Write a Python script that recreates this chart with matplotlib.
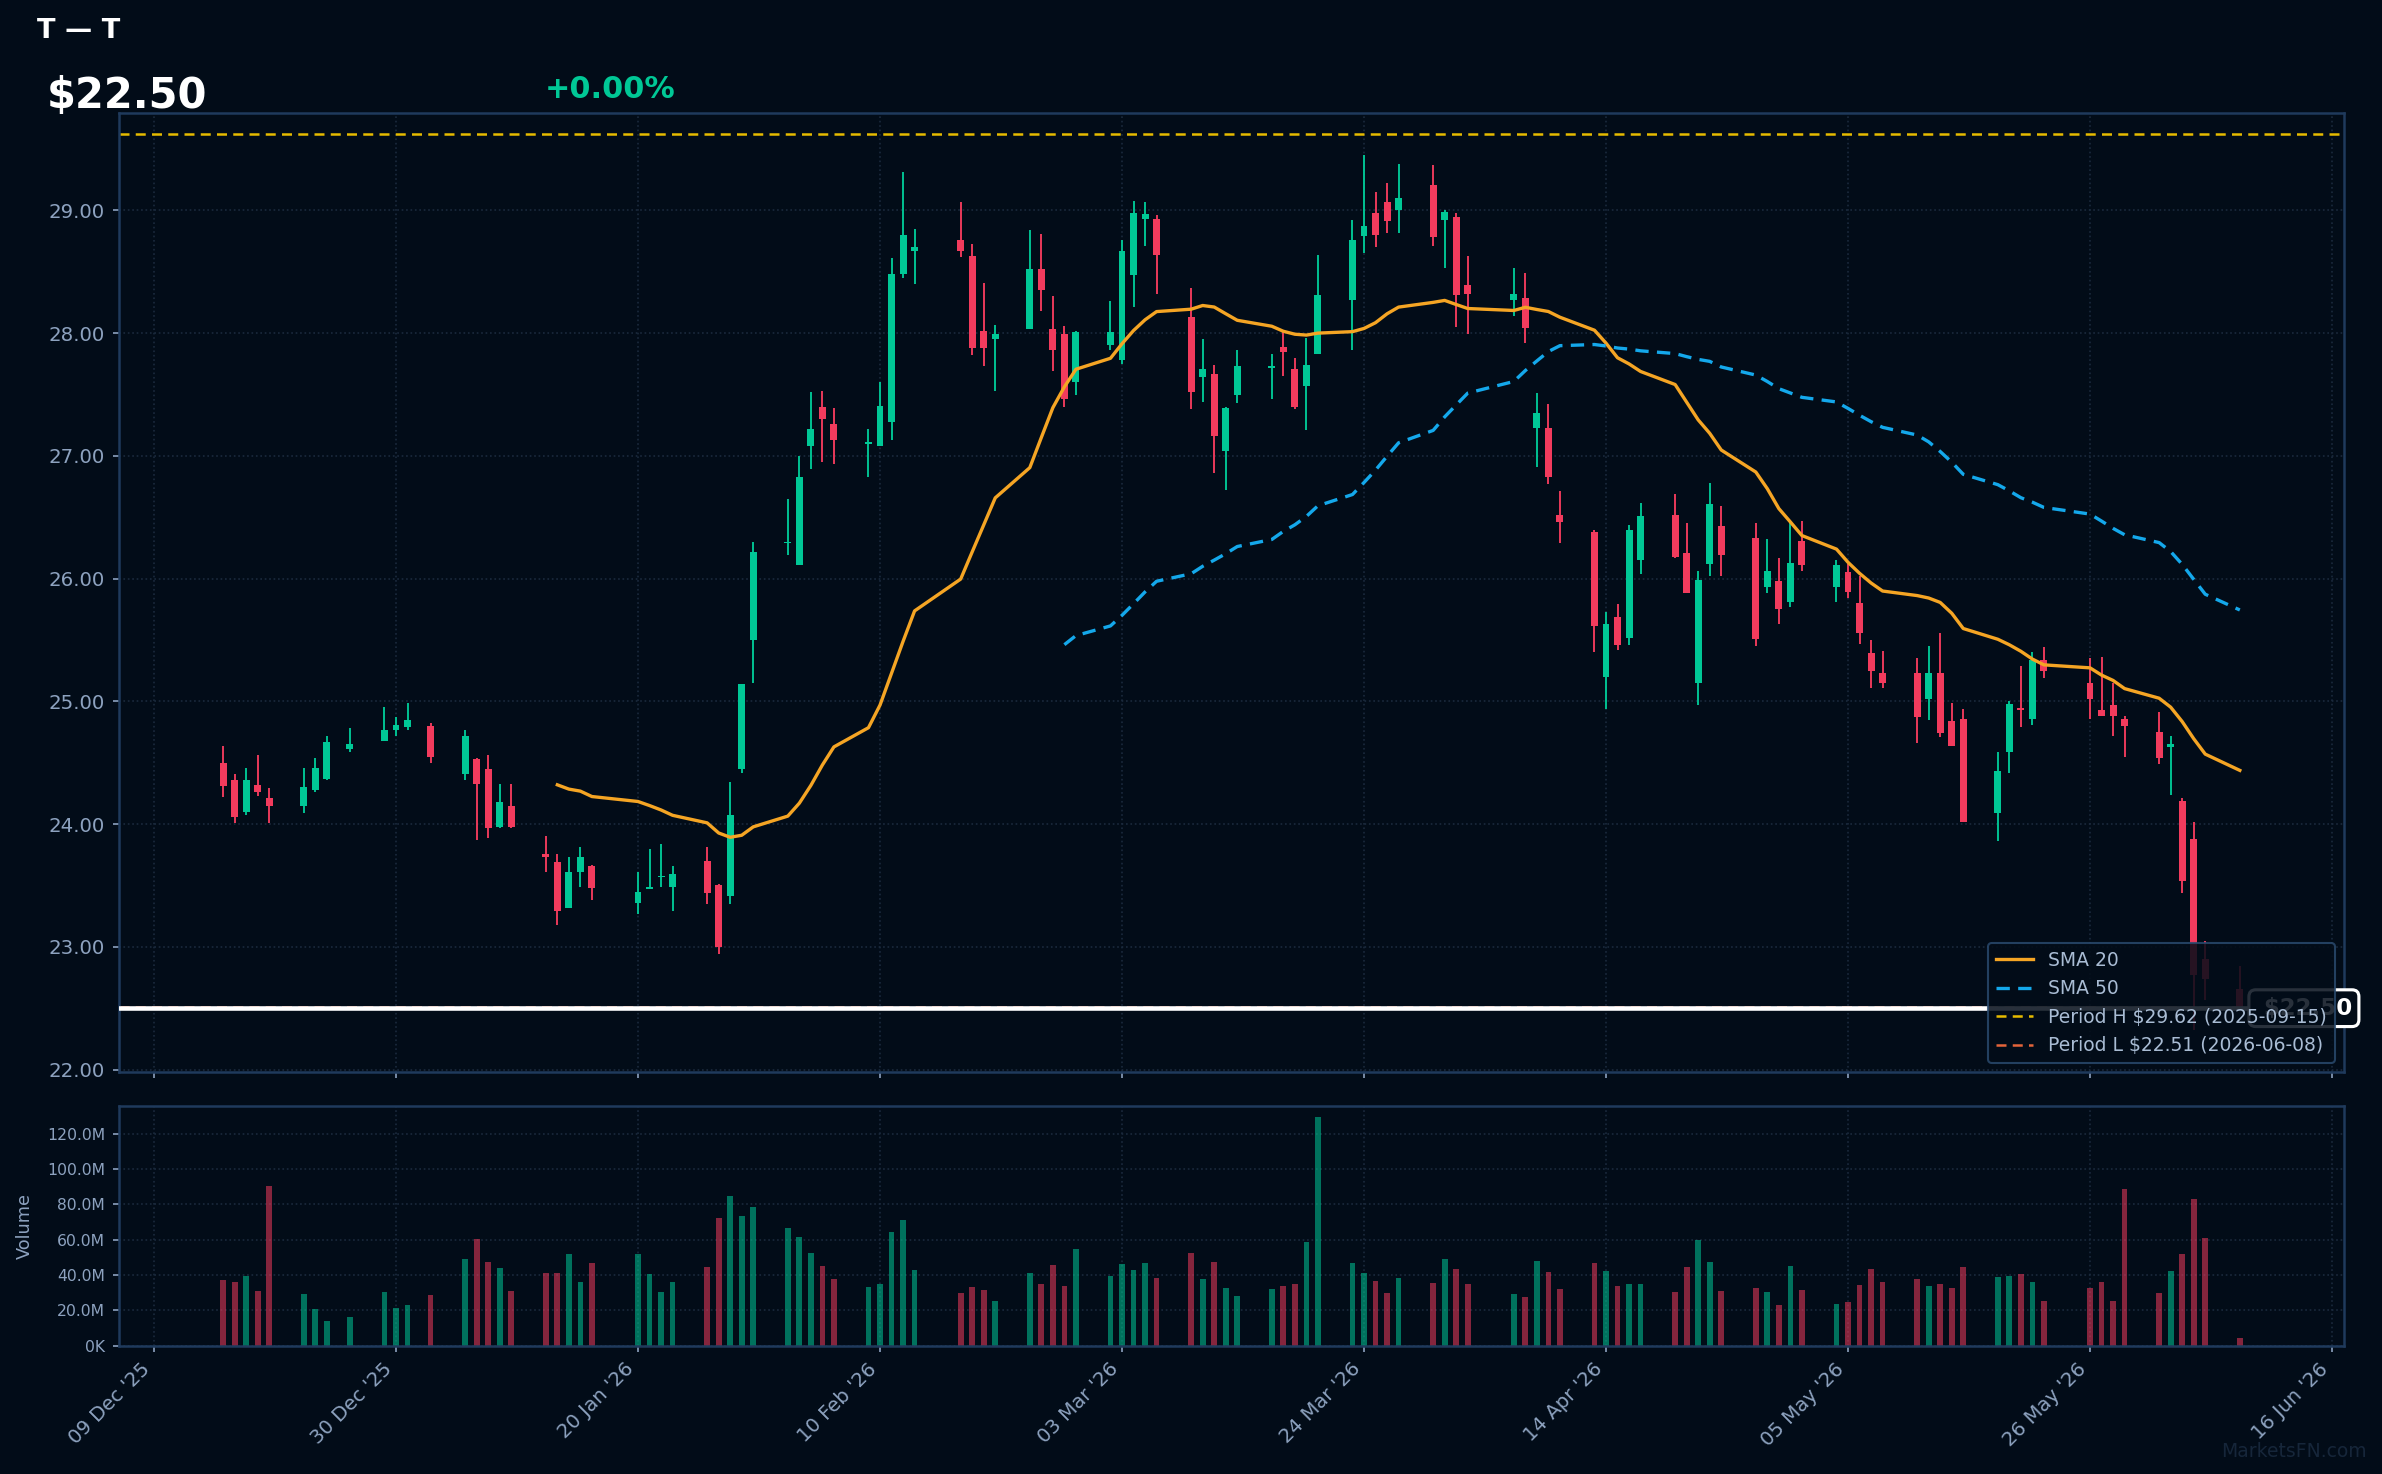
import numpy as np
import pandas as pd
import matplotlib
matplotlib.use('Agg')
import matplotlib.pyplot as plt
import matplotlib.dates as mdates
import matplotlib.transforms as mtransforms
from matplotlib.ticker import FuncFormatter, MultipleLocator

# colours
BG = '#020c18'
SPINE = '#1f3a5c'
TICK = '#8da2bf'
GRID = '#1b2a3d'
UP = '#00c896'
DOWN = '#f23b5d'

# trading days (NYSE calendar)
holidays = ['2025-12-25', '2026-01-01', '2026-01-19', '2026-02-16', '2026-04-03', '2026-05-25']
dates = pd.bdate_range('2025-12-15', '2026-06-08', freq='C', holidays=holidays)

opens = [24.50, 24.36, 24.10, 24.32, 24.21, 24.15, 24.28, 24.37, 24.61, 24.68, 24.77, 24.79,
         24.80, 24.41, 24.53, 24.45, 23.98, 24.15, 23.76, 23.69, 23.32, 23.61, 23.66,
         23.36, 23.47, 23.565, 23.49, 23.70, 23.50, 23.41, 24.45, 25.50,
         26.29, 26.11, 27.08, 27.40, 27.26, 27.10, 27.08, 27.28, 28.48, 28.67, 28.76, 28.63,
         28.02, 27.95, 28.03, 28.52, 28.03, 27.99, 27.60,
         27.90, 27.78, 28.47, 28.93, 28.93, 28.13, 27.64, 27.67, 27.04, 27.50, 27.72, 27.89,
         27.71, 27.57, 27.83, 28.27, 28.79, 28.98, 29.07, 29.00, 29.21, 28.92,
         28.95, 28.39, 28.27, 28.29, 27.23, 27.23, 26.52, 26.38, 25.20, 25.69, 25.52, 26.15,
         26.52, 26.21, 25.15, 26.12, 26.43, 26.33, 25.93, 25.98, 25.81,
         26.31, 25.93, 26.05, 25.80, 25.39, 25.23, 25.23, 25.02, 25.23, 24.84, 24.86, 24.09,
         24.59, 24.94, 24.86, 25.34, 25.15, 24.93, 24.97, 24.86,
         24.75, 24.63, 24.19, 23.88, 22.90, 22.66]
highs = [24.64, 24.41, 24.46, 24.56, 24.29, 24.46, 24.54, 24.72, 24.78, 24.95, 24.87, 24.99,
         24.82, 24.77, 24.54, 24.56, 24.33, 24.33, 23.90, 23.76, 23.73, 23.81, 23.67,
         23.61, 23.80, 23.84, 23.66, 23.81, 23.51, 24.34, 25.14, 26.30,
         26.65, 27.00, 27.52, 27.53, 27.39, 27.22, 27.60, 28.61, 29.31, 28.85, 29.07, 28.73,
         28.41, 28.07, 28.84, 28.81, 28.30, 28.06, 28.02,
         28.26, 28.76, 29.08, 29.07, 28.96, 28.37, 27.95, 27.74, 27.40, 27.86, 27.83, 28.01,
         27.80, 27.96, 28.64, 28.92, 29.45, 29.15, 29.22, 29.38, 29.37, 29.00,
         28.98, 28.63, 28.53, 28.49, 27.51, 27.42, 26.71, 26.40, 25.73, 25.79, 26.44, 26.62,
         26.69, 26.45, 26.06, 26.78, 26.59, 26.45, 26.32, 26.17, 26.45,
         26.47, 26.15, 26.12, 26.02, 25.50, 25.41, 25.35, 25.45, 25.56, 24.99, 24.94, 24.59,
         25.00, 25.29, 25.40, 25.44, 25.35, 25.36, 25.15, 24.88,
         24.91, 24.72, 24.21, 24.02, 23.05, 22.84]
lows = [24.22, 24.01, 24.07, 24.23, 24.01, 24.09, 24.26, 24.36, 24.59, 24.68, 24.72, 24.77,
        24.50, 24.36, 23.87, 23.89, 23.97, 23.97, 23.61, 23.18, 23.32, 23.49, 23.38,
        23.27, 23.47, 23.49, 23.29, 23.35, 22.94, 23.35, 24.42, 25.15,
        26.19, 26.11, 26.89, 26.95, 26.93, 26.83, 27.08, 27.13, 28.45, 28.40, 28.62, 27.82,
        27.73, 27.53, 28.03, 28.18, 27.69, 27.40, 27.50,
        27.86, 27.75, 28.21, 28.71, 28.32, 27.38, 27.44, 26.86, 26.72, 27.43, 27.46, 27.65,
        27.38, 27.21, 27.83, 27.86, 28.65, 28.70, 28.82, 28.82, 28.71, 28.53,
        28.05, 27.99, 28.14, 27.92, 26.91, 26.77, 26.29, 25.40, 24.94, 25.42, 25.46, 26.04,
        26.17, 25.88, 24.97, 26.02, 26.02, 25.45, 25.88, 25.63, 25.77,
        26.06, 25.81, 25.84, 25.47, 25.11, 25.11, 24.66, 24.85, 24.71, 24.64, 24.02, 23.86,
        24.42, 24.79, 24.81, 25.19, 24.86, 24.88, 24.72, 24.55,
        24.49, 24.24, 23.44, 22.32, 22.57, 22.50]
closes = [24.31, 24.06, 24.36, 24.26, 24.15, 24.30, 24.46, 24.67, 24.65, 24.77, 24.81, 24.85,
          24.55, 24.72, 24.33, 23.97, 24.18, 23.98, 23.73, 23.29, 23.61, 23.73, 23.48,
          23.45, 23.49, 23.58, 23.59, 23.44, 23.00, 24.07, 25.14, 26.22,
          26.30, 26.83, 27.22, 27.30, 27.13, 27.11, 27.41, 28.48, 28.80, 28.70, 28.67, 27.88,
          27.88, 27.99, 28.52, 28.35, 27.86, 27.46, 28.01,
          28.01, 28.67, 28.98, 28.97, 28.64, 27.52, 27.71, 27.16, 27.39, 27.73, 27.73, 27.85,
          27.40, 27.74, 28.31, 28.76, 28.87, 28.80, 28.91, 29.10, 28.78, 28.99,
          28.31, 28.32, 28.32, 28.04, 27.35, 26.83, 26.46, 25.61, 25.63, 25.46, 26.40, 26.51,
          26.18, 25.88, 25.99, 26.61, 26.19, 25.51, 26.06, 25.75, 26.13,
          26.11, 26.11, 25.89, 25.56, 25.25, 25.15, 24.87, 25.23, 24.74, 24.64, 24.02, 24.43,
          24.98, 24.93, 25.34, 25.25, 25.02, 24.88, 24.88, 24.80,
          24.54, 24.65, 23.54, 22.77, 22.74, 22.50]
volumes_m = [37.1, 36.0, 39.4, 30.9, 90.2, 29.2, 20.7, 13.9, 16.2, 30.3, 21.3, 23.0,
             28.6, 49.0, 60.3, 47.3, 43.9, 30.9, 41.1, 41.1, 51.8, 36.0, 46.7,
             51.8, 40.5, 30.3, 36.0, 44.4, 72.1, 84.6, 73.3, 78.3,
             66.5, 61.4, 52.4, 45.0, 37.7, 33.1, 34.8, 64.2, 71.0, 42.7, 29.8, 33.1,
             31.4, 25.2, 41.1, 34.8, 45.6, 33.7, 54.6,
             39.4, 46.1, 42.7, 46.7, 38.2, 52.4, 37.7, 47.3, 32.6, 28.1, 32.0, 33.7,
             34.8, 58.6, 129.2, 46.7, 41.1, 36.5, 29.8, 38.2, 35.4, 49.0,
             43.3, 34.8, 29.2, 27.5, 47.8, 41.6, 32.0, 46.7, 42.2, 33.7, 34.8, 34.8,
             30.3, 44.4, 59.7, 47.3, 30.9, 32.6, 30.3, 23.0, 45.0,
             31.4, 23.5, 24.7, 34.3, 43.3, 36.0, 37.7, 33.7, 34.8, 32.6, 44.4, 38.8,
             39.4, 40.5, 36.0, 25.2, 32.6, 36.0, 25.2, 88.5,
             29.8, 42.2, 51.8, 82.9, 60.8, 4.3]

last_price = 22.50
period_high = 29.62
period_low = 22.51

o = np.array(opens)
h = np.array(highs)
l = np.array(lows)
c = np.array(closes)
v = np.array(volumes_m) * 1e6
x = mdates.date2num(dates)
cols = np.where(c >= o, UP, DOWN)

sma20 = pd.Series(c).rolling(20).mean()
sma50 = pd.Series(c).rolling(50).mean()

fig = plt.figure(figsize=(2382 / 150, 1474 / 150), dpi=150, facecolor=BG)
ax = fig.add_axes([0.04975, 0.27273, 0.9343, 0.65027])
axv = fig.add_axes([0.04975, 0.08704, 0.9343, 0.16262], sharex=ax)

for a in (ax, axv):
    a.set_facecolor(BG)
    for s in a.spines.values():
        s.set_color(SPINE)
        s.set_linewidth(1.2)
    a.grid(True, color=GRID, ls=':', lw=0.8)
    a.set_axisbelow(True)
    a.tick_params(colors=TICK, length=3, width=0.8)

# candles
ax.vlines(x, l, h, color=cols, lw=0.9, zorder=2)
ax.bar(x, np.maximum(np.abs(c - o), 0.012), bottom=np.minimum(o, c), width=0.6,
       color=cols, zorder=3)

ax.plot(x, sma20, color='#f5a524', lw=1.6, label='SMA 20', zorder=3.5)
ax.plot(x, sma50, color='#14a8eb', lw=1.6, ls=(0, (4, 2.5)), label='SMA 50', zorder=3.5)
ax.axhline(period_high, color='#e6bb00', lw=1.2, ls=(0, (4, 2.5)),
           label=f'Period H ${period_high:.2f} (2025-09-15)')
ax.axhline(period_low, color='#e4643a', lw=1.2, ls=(0, (4, 2.5)),
           label=f'Period L ${period_low:.2f} (2026-06-08)')
ax.axhline(last_price, color='white', lw=2.2, zorder=4)

trans = mtransforms.blended_transform_factory(ax.transAxes, ax.transData)
ax.text(1.0036, last_price, ' $22.50', transform=trans, ha='right', va='center',
        fontsize=11, fontweight='bold', color='white', zorder=4.5, clip_on=False,
        bbox=dict(boxstyle='round,pad=0.3', fc=BG, ec='white', lw=1.5))

ax.set_ylim(21.98, 29.79)
ax.yaxis.set_major_locator(MultipleLocator(1.0))
ax.yaxis.set_major_formatter(FuncFormatter(lambda val, pos: f'{val:.2f}'))
ax.tick_params(axis='y', labelsize=9.5)
ax.tick_params(labelbottom=False)

leg = ax.legend(loc='lower right', fontsize=9, facecolor=BG, edgecolor='#2a4a6e',
                framealpha=0.85, labelcolor='#a9bcd4')
leg.set_zorder(6)

# volume
axv.bar(x, v, width=0.5, color=cols, alpha=0.55)
axv.set_ylim(0, v.max() * 1.05)
axv.yaxis.set_major_locator(MultipleLocator(20e6))
axv.yaxis.set_major_formatter(FuncFormatter(
    lambda val, pos: f'{val / 1e6:.1f}M' if val >= 1e6 else f'{val / 1e3:.0f}K'))
axv.tick_params(axis='y', labelsize=7.5)
axv.set_ylabel('Volume', color=TICK, fontsize=8.5, labelpad=6)

xt = pd.date_range('2025-12-09', periods=10, freq='21D')
axv.set_xticks(mdates.date2num(xt))
axv.xaxis.set_major_formatter(mdates.DateFormatter("%d %b '%y"))
axv.tick_params(axis='x', labelsize=9.5)
plt.setp(axv.get_xticklabels(), rotation=45, ha='right')
ax.set_xlim(x[0] - 9.08, x[-1] + 9.04)

# header
fig.text(0.0154, 0.9744, 'T \u2014 T', color='white', fontsize=13, fontweight='bold',
         va='baseline')
fig.text(0.0197, 0.9267, f'${last_price:.2f}', color='white', fontsize=20,
         fontweight='bold', va='baseline')
fig.text(0.2285, 0.9337, '+0.00%', color=UP, fontsize=14.5, fontweight='bold', va='baseline')
fig.text(0.9937, 0.0115, 'MarketsFN.com', color='#16263a', fontsize=9, ha='right',
         va='baseline')

fig.savefig('out.png', dpi=150, facecolor=BG)
